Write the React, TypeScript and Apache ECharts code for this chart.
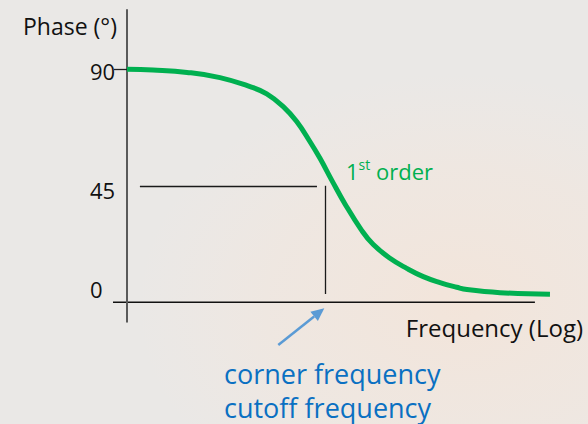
import React, { useEffect, useRef } from "react";
import * as echarts from "echarts";

// Phase response of a 1st order (high-pass) network
const frequencyHz = [10, 18.3, 40.4, 87, 175, 258, 379, 518, 706, 890, 1169, 1592, 2337, 3075, 4536, 6689, 9838, 14510, 21390, 27190, 58570, 187400];
const phaseDeg = [90, 89.7, 88.8, 86.8, 83.3, 80.5, 75.6, 69.8, 62.0, 55.6, 47.2, 38.0, 27.9, 22.3, 17.0, 13.1, 9.9, 7.6, 5.8, 4.9, 3.7, 3.1];

const yTickLabels = [0, 45, 90];
const yTickMarks = [90];

// corner-frequency guide lines
const cornerFrequency = 1000;
const guidePhase = 45;
const guideStartFreq = 13.5;
const guideEndFreq = 830;
const guideBottomPhase = 3.2;
const xAxisLineEndFreq = 132000;

const FONT = "'Open Sans', 'Noto Sans', sans-serif";
const GREEN = "#00B050";
const BLUE = "#0A70C2";
const ARROW = "#5B9BD5";

export default function App() {
  const ref = useRef<HTMLDivElement>(null);

  useEffect(() => {
    document.body.style.margin = "0";
    const chart = echarts.init(ref.current!, null, { renderer: "svg" });
    const option: any = {
      animation: false,
      backgroundColor: "#EAE8E6",
      grid: { left: 127, right: 38, top: 10, bottom: 102.3 },
      xAxis: {
        type: "log",
        logBase: 10,
        min: 10,
        max: 187500,
        offset: 6,
        axisLine: { show: false, onZero: false },
        axisTick: { show: false },
        axisLabel: { show: false },
        splitLine: { show: false },
        name: "Frequency (Log)",
        nameLocation: "end",
        nameGap: 33,
        nameTextStyle: {
          align: "right",
          verticalAlign: "middle",
          fontFamily: FONT,
          fontSize: 24,
          color: "#111",
        },
      },
      yAxis: {
        type: "value",
        min: -7.5,
        max: 112.9,
        axisLine: { show: true, lineStyle: { color: "#5a5a5a", width: 2 } },
        axisTick: {
          show: true,
          customValues: yTickMarks,
          length: 13,
          lineStyle: { color: "#222", width: 1.3 },
        },
        axisLabel: {
          customValues: yTickLabels,
          align: "left",
          margin: 37,
          fontFamily: FONT,
          fontSize: 22,
          color: "#111",
          formatter: (v: number) => (v === 0 ? `{z|${v}}` : v === 90 ? `{t|${v}}` : `{n|${v}}`),
          rich: {
            t: { fontFamily: FONT, fontSize: 22, color: "#111", padding: [4, 0, 0, 0] },
            n: { fontFamily: FONT, fontSize: 22, color: "#111", padding: [8, 0, 0, 0] },
            z: { fontFamily: FONT, fontSize: 22, color: "#111", padding: [0, 0, 26, 0] },
          },
        },
        splitLine: { show: false },
        name: "Phase (°)",
        nameLocation: "end",
        nameGap: -16,
        nameTextStyle: {
          align: "right",
          verticalAlign: "middle",
          fontFamily: FONT,
          fontSize: 23,
          color: "#111",
          padding: [0, 10, 0, 0],
        },
      },
      series: [
        {
          type: "line",
          name: "1st order",
          data: frequencyHz.map((f, i) => [f, phaseDeg[i]]),
          smooth: 0.45,
          symbol: "none",
          showSymbol: false,
          clip: false,
          lineStyle: { color: GREEN, width: 5 },
          silent: true,
          markLine: {
            silent: true,
            symbol: ["none", "none"],
            label: { show: false },
            lineStyle: { color: "#1a1a1a", width: 1.3, type: "solid" },
            emphasis: { disabled: true },
            data: [
              [{ coord: [guideStartFreq, guidePhase] }, { coord: [guideEndFreq, guidePhase] }],
              [{ coord: [cornerFrequency, guidePhase] }, { coord: [cornerFrequency, guideBottomPhase] }],
            ],
          },
        },
      ],
    };
    chart.setOption(option);

    const y0 = chart.convertToPixel({ yAxisIndex: 0 }, 0) as number;
    const xStart = (chart.convertToPixel({ xAxisIndex: 0 }, 10) as number) - 14;
    const xEnd = chart.convertToPixel({ xAxisIndex: 0 }, xAxisLineEndFreq) as number;

    // arrow pointing at the corner frequency
    const tipX = 324.3, tipY = 308.3, tailX = 278.3, tailY = 345;
    const dx = tipX - tailX, dy = tipY - tailY;
    const len = Math.sqrt(dx * dx + dy * dy);
    const ux = dx / len, uy = dy / len;
    const headLen = 13, headHalf = 6;
    const bx = tipX - ux * headLen, by = tipY - uy * headLen;

    chart.setOption({
      graphic: [
        {
          type: "rect",
          z: -10,
          silent: true,
          shape: { x: 0, y: 0, width: 588, height: 424 },
          style: {
            fill: new echarts.graphic.RadialGradient(0.78, 0.72, 0.55, [
              { offset: 0, color: "rgba(244,228,216,0.85)" },
              { offset: 0.6, color: "rgba(243,230,220,0.5)" },
              { offset: 1, color: "rgba(243,232,224,0)" },
            ]),
          },
        },
        {
          type: "line",
          silent: true,
          shape: { x1: xStart, y1: y0, x2: xEnd, y2: y0 },
          style: { stroke: "#111", lineWidth: 1.4 },
        },
        {
          type: "text",
          silent: true,
          x: 346,
          y: 157.5,
          style: {
            text: "{a|1}{s|st}{a| order}",
            verticalAlign: "top",
            rich: {
              a: { fontFamily: FONT, fontSize: 22, fill: GREEN, lineHeight: 26 },
              s: { fontFamily: FONT, fontSize: 14, fill: GREEN, lineHeight: 14, verticalAlign: "top" },
            },
          },
        },
        {
          type: "line",
          silent: true,
          shape: { x1: tailX, y1: tailY, x2: bx, y2: by },
          style: { stroke: ARROW, lineWidth: 2.5 },
        },
        {
          type: "polygon",
          silent: true,
          shape: {
            points: [
              [tipX, tipY],
              [bx - uy * headHalf, by + ux * headHalf],
              [bx + uy * headHalf, by - ux * headHalf],
            ],
          },
          style: { fill: ARROW },
        },
        {
          type: "text",
          silent: true,
          x: 224,
          y: 373,
          style: { text: "corner frequency", fontFamily: FONT, fontSize: 27, fill: BLUE, verticalAlign: "middle" },
        },
        {
          type: "text",
          silent: true,
          x: 224,
          y: 407,
          style: { text: "cutoff frequency", fontFamily: FONT, fontSize: 27, fill: BLUE, verticalAlign: "middle" },
        },
      ],
    });

    return () => chart.dispose();
  }, []);

  return <div ref={ref} style={{ position: "fixed", left: 0, top: 0, width: 588, height: 424 }} />;
}
